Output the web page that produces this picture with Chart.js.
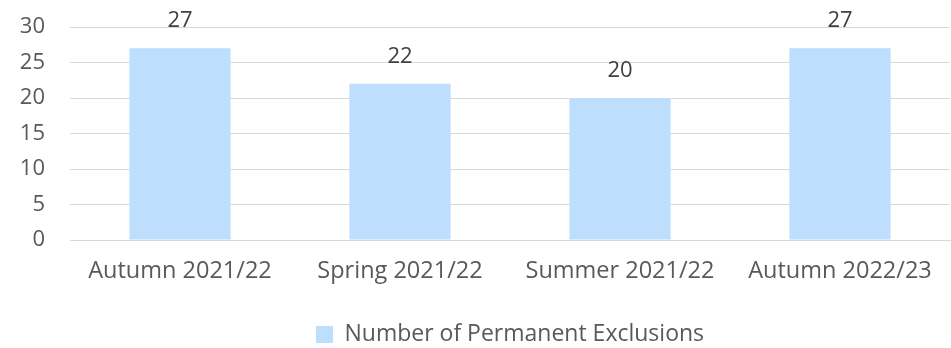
<!DOCTYPE html>
<html>
<head>
<meta charset="utf-8">
<script src="https://cdn.jsdelivr.net/npm/chart.js@4.4.1/dist/chart.umd.min.js"></script>
<style>
  html, body { margin: 0; padding: 0; background: #ffffff; }
  #wrap { width: 951px; height: 348px; }
</style>
</head>
<body>
<div id="wrap"><canvas id="exclusionsChart"></canvas></div>
<script>
// Terms and counts of permanent exclusions
const terms = ['Autumn 2021/22', 'Spring 2021/22', 'Summer 2021/22', 'Autumn 2022/23'];
const exclusions = [27, 22, 20, 27];
const yTicks = [0, 5, 10, 15, 20, 25, 30];

const textColour = '#595959';
const fontFamily = '"Open Sans", sans-serif';

// Write each bar's value above it
const valueLabels = {
    id: 'valueLabels',
    afterDatasetsDraw(chart) {
        const ctx = chart.ctx;
        ctx.save();
        ctx.fillStyle = '#404040';
        ctx.font = '22px ' + fontFamily;
        ctx.textAlign = 'center';
        ctx.textBaseline = 'alphabetic';
        chart.getDatasetMeta(0).data.forEach((bar, i) => {
            ctx.fillText(chart.data.datasets[0].data[i], bar.x, bar.y - 21);
        });
        ctx.restore();
    }
};

const ctx = document.getElementById('exclusionsChart').getContext('2d');
const myBarChart = new Chart(ctx, {
    type: 'bar',
    data: {
        labels: terms,
        datasets: [{
            label: 'Number of Permanent Exclusions',
            data: exclusions,
            backgroundColor: '#BDDEFC',
            borderWidth: 0,
            categoryPercentage: 1,
            barPercentage: 0.46
        }]
    },
    options: {
        responsive: true,
        maintainAspectRatio: false,
        animation: false,
        layout: {
            // legend sits slightly lower than its own box would allow
            padding: { top: 27, right: 1, bottom: -8, left: 0 }
        },
        scales: {
            x: {
                grid: { display: false },
                border: { color: '#D9D9D9', width: 1 },
                ticks: {
                    color: textColour,
                    font: { family: fontFamily, size: 23.5 },
                    padding: 9,
                    maxRotation: 0
                },
                afterFit(scale) {
                    scale.height = 83;
                }
            },
            y: {
                min: 0,
                max: 30,
                afterBuildTicks(scale) {
                    scale.ticks = yTicks.map(v => ({ value: v }));
                },
                afterFit(scale) {
                    // keep the wide label gap from pushing the plot area down
                    scale.width = 70;
                    scale.paddingTop = 13;
                    scale.paddingBottom = 13;
                },
                grid: {
                    color: '#D9D9D9',
                    lineWidth: 1,
                    drawTicks: false
                },
                border: { display: false },
                ticks: {
                    color: textColour,
                    font: { family: fontFamily, size: 22 },
                    padding: 25
                }
            }
        },
        plugins: {
            legend: {
                position: 'bottom',
                fullSize: false,
                labels: {
                    color: textColour,
                    font: { family: fontFamily, size: 23 },
                    boxWidth: 17,
                    boxHeight: 17,
                    padding: 0
                }
            },
            tooltip: { enabled: false }
        }
    },
    plugins: [valueLabels]
});
</script>
</body>
</html>
